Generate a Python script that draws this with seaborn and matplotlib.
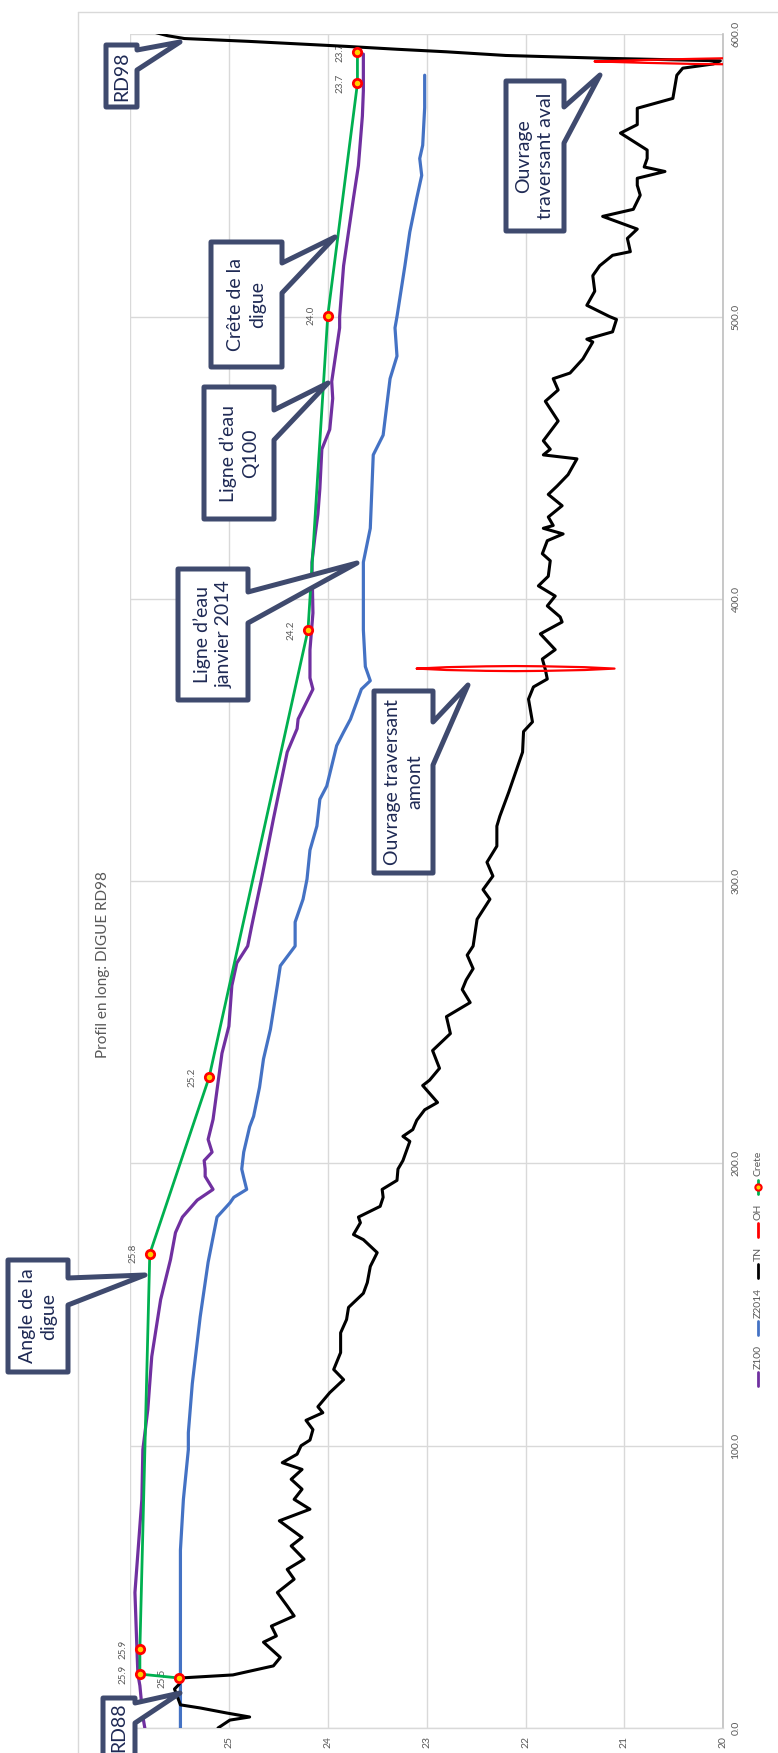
import numpy as np
import pandas as pd
import matplotlib
matplotlib.use("Agg")
import matplotlib.pyplot as plt
from matplotlib.patches import Polygon
from matplotlib.lines import Line2D
import seaborn as sns

sns.set_theme(style="white")
plt.rcParams["font.family"] = ["Lato", "DejaVu Sans"]

# ---------------------------------------------------------------- data
# Longitudinal profile of the RD98 dyke: distance along the dyke (m) and
# elevation (m NGF) for each series.

z100_dist = [0, 4, 15, 19, 28, 48, 81, 98.6, 112.8, 131.6, 151.8, 166, 175.5, 181,
             187, 190.8, 195.4, 198, 201, 204, 208.5, 215.6, 239, 248.6, 263, 271,
             277, 284, 300.7, 322, 345.7, 354, 357.4, 368, 372, 382, 395, 413, 422,
             430, 439, 453, 460, 471, 477, 496, 500, 518, 542, 553.5, 571, 580, 593]
z100_elev = [25.85, 25.87, 25.90, 25.92, 25.93, 25.95, 25.88, 25.87, 25.82, 25.78,
             25.69, 25.59, 25.54, 25.47, 25.32, 25.16, 25.24, 25.24, 25.25, 25.17,
             25.21, 25.16, 25.07, 25.00, 24.97, 24.92, 24.81, 24.77, 24.67, 24.55,
             24.41, 24.31, 24.30, 24.15, 24.18, 24.18, 24.15, 24.16, 24.13, 24.10,
             24.08, 24.06, 23.98, 23.95, 23.96, 23.88, 23.88, 23.84, 23.74, 23.69,
             23.65, 23.64, 23.64]

z2014_dist = [0, 21.6, 63, 81, 98.6, 104.6, 122, 145.7, 165, 181, 186, 188, 190.8,
              195, 198, 204, 213, 216.7, 227, 237, 247.5, 263, 270, 277, 285.5,
              293.6, 300.7, 311, 319.5, 329, 333.7, 348, 352.8, 357.4, 368, 371,
              376, 389, 413, 425, 451, 458, 478, 486, 496, 500, 518, 530, 542, 550,
              556, 560.7, 574, 585.5]
z2014_elev = [25.49, 25.49, 25.49, 25.46, 25.41, 25.41, 25.37, 25.29, 25.21, 25.12,
              24.99, 24.95, 24.82, 24.85, 24.87, 24.85, 24.79, 24.75, 24.69, 24.65,
              24.58, 24.51, 24.48, 24.33, 24.33, 24.25, 24.21, 24.18, 24.11, 24.08,
              24.01, 23.91, 23.84, 23.77, 23.66, 23.57, 23.62, 23.64, 23.64, 23.57,
              23.54, 23.44, 23.37, 23.30, 23.32, 23.30, 23.22, 23.17, 23.10, 23.05,
              23.07, 23.04, 23.02, 23.02]

tn_dist = [0, 2.8, 3.9, 5.3, 7.1, 8.2, 13.8, 15.6, 17.7, 18.8, 22, 25, 30.4, 32.6,
           36.1, 39.7, 43.2, 48, 52.7, 56.2, 59.8, 64.5, 67.5, 73.4, 77.5, 81,
           84.6, 88.1, 91.6, 94, 97, 100, 102, 105.7, 109, 111.7, 113.8, 118.8,
           123.4, 127, 133, 140, 144.7, 149, 154, 157.8, 163.5, 168.4, 173, 174.8,
           179, 181, 184.8, 188, 190.8, 194, 198, 201, 207.8, 209.6, 212, 215.3,
           219, 221.6, 227.6, 229.5, 233.7, 240, 246, 252, 257, 261.6, 265, 269,
           273.8, 277, 286.5, 293.6, 297, 301.8, 306.7, 312.4, 319.5, 323, 331.5,
           338.6, 345.7, 353, 356.4, 364.5, 368.8, 371.6, 375, 378.7, 382, 387.6,
           391.8, 393.6, 397.5, 401, 404.6, 408, 413.5, 416, 420.6, 423, 425, 426,
           429, 433, 437, 440, 444, 449.6, 451, 453, 456, 463, 470, 474, 478, 480,
           485, 491, 492, 494.6, 499, 500, 504, 509, 514.5, 518, 521.7, 523,
           527.7, 531, 535.5, 538, 543, 546.5, 549, 551.4, 553, 556, 559, 565, 568,
           573.8, 577.3, 585.5, 588, 589.5, 590.6, 591.5, 592.5, 593.8, 594.7,
           595.7, 596.8, 597.5, 598.5, 599.5, 600.7, 601.5]
tn_elev = [25.11, 24.99, 24.79, 25.02, 25.29, 25.49, 25.55, 25.50, 25.50, 24.96,
           24.55, 24.48, 24.65, 24.52, 24.57, 24.34, 24.41, 24.51, 24.34, 24.41,
           24.24, 24.37, 24.26, 24.49, 24.18, 24.34, 24.26, 24.37, 24.26, 24.46,
           24.31, 24.27, 24.18, 24.15, 24.22, 24.05, 24.10, 23.98, 23.84, 23.94,
           23.87, 23.87, 23.81, 23.79, 23.64, 23.60, 23.57, 23.50, 23.64, 23.74,
           23.67, 23.69, 23.47, 23.44, 23.45, 23.30, 23.29, 23.24, 23.17, 23.24,
           23.14, 23.10, 23.02, 22.89, 23.04, 22.97, 22.87, 22.94, 22.76, 22.80,
           22.56, 22.64, 22.60, 22.53, 22.59, 22.53, 22.49, 22.36, 22.43, 22.33,
           22.39, 22.29, 22.29, 22.26, 22.17, 22.10, 22.03, 22.02, 21.93, 21.97,
           21.92, 21.78, 21.80, 21.83, 21.70, 21.85, 21.63, 21.65, 21.78, 21.70,
           21.87, 21.77, 21.75, 21.83, 21.78, 21.62, 21.82, 21.72, 21.77, 21.63,
           21.77, 21.68, 21.57, 21.48, 21.82, 21.75, 21.82, 21.67, 21.80, 21.67,
           21.72, 21.55, 21.42, 21.32, 21.38, 21.12, 21.08, 21.15, 21.38, 21.30,
           21.32, 21.25, 21.12, 20.94, 20.97, 20.87, 21.22, 20.91, 20.84, 20.87,
           20.87, 20.59, 20.80, 20.77, 20.77, 21.04, 20.87, 20.87, 20.51, 20.47,
           20.41, 20.10, 20.03, 21.20, 22.20, 22.80, 23.30, 23.80, 24.40, 24.80,
           25.45, 25.62, 25.75, 25.90]

# Crossing structures (OH): closed outlines, upstream and downstream
oh_amont_dist = [375.3, 375.8, 376.1, 376.2, 376.1, 375.8, 375.3, 374.8, 374.5,
                 374.4, 374.5, 374.8, 375.3]
oh_amont_elev = [23.1, 22.8, 22.4, 22.1, 21.8, 21.4, 21.1, 21.4, 21.8, 22.1, 22.4,
                 22.8, 23.1]
oh_aval_dist = [590.4, 590.9, 591.3, 591.5, 591.3, 590.5, 589.6, 589.4, 589.5,
                589.9, 590.4]
oh_aval_elev = [21.3, 20.8, 20.3, 20.0, 19.6, 19.3, 19.6, 20.0, 20.3, 20.8, 21.3]

# Dyke crest survey points (value labels are drawn from the same values)
crete_dist = [17.7, 19.1, 28, 168, 230.5, 389, 500.3, 582.6, 593.6]
crete_elev = [25.5, 25.9, 25.9, 25.8, 25.2, 24.2, 24.0, 23.7, 23.7]

elev_ticks = [20, 21, 22, 23, 24, 25, 26]
dist_ticks = [0, 100, 200, 300, 400, 500, 600]
legend_labels = ["Z100", "Z2014", "TN", "OH", "Crete"]
title_text = "Profil en long: DIGUE RD98"

callouts = [
    ("RD98", (106, 45, 137, 107), (50, 70), (180, 42)),
    ("RD88", (103, 1698, 135, 1790), (1703, 1723), (180, 1693)),
    ("Angle de la\ndigue", (8, 1260, 68, 1372), (1278, 1305), (145, 1275)),
    ("Crête de la\ndigue", (211, 242, 282, 367), (263, 293), (335, 237)),
    ("Ligne d\u2019eau\nQ100", (204, 387, 274, 519), (410, 440), (328, 383)),
    ("Ligne d\u2019eau\njanvier 2014", (178, 569, 248, 700), (592, 623), (357, 563)),
    ("Ouvrage traversant\namont", (374, 691, 433, 873), (722, 765), (468, 685)),
    ("Ouvrage\ntraversant aval", (506, 81, 564, 231), (107, 143), (600, 75)),
]

# ---------------------------------------------------------------- figure
W, H = 778, 1753
fig = plt.figure(figsize=(W / 100, H / 100), dpi=100)
fig.patch.set_facecolor("white")


def fx(px):
    return px / W


def fy(py):
    return 1 - py / H


ax = fig.add_axes([fx(130), fy(1728), fx(723.3) - fx(130), fy(34.3) - fy(1728)])

C_Z100 = "#7030A0"
C_Z2014 = "#4472C4"
C_TN = "#000000"
C_OH = "#FF0000"
C_CRETE = "#00B050"
GRID = "#D9D9D9"
TXT = "#595959"

df_z100 = pd.DataFrame({"elev": z100_elev, "dist": z100_dist})
df_z2014 = pd.DataFrame({"elev": z2014_elev, "dist": z2014_dist})
df_tn = pd.DataFrame({"elev": tn_elev, "dist": tn_dist})
df_oh1 = pd.DataFrame({"elev": oh_amont_elev, "dist": oh_amont_dist})
df_oh2 = pd.DataFrame({"elev": oh_aval_elev, "dist": oh_aval_dist})
df_cr = pd.DataFrame({"elev": crete_elev, "dist": crete_dist})

kw = dict(x="elev", y="dist", orient="y", sort=False, estimator=None, ax=ax)
sns.lineplot(data=df_z100, color=C_Z100, lw=2.3, zorder=3, **kw)
sns.lineplot(data=df_z2014, color=C_Z2014, lw=2.3, zorder=3, **kw)
sns.lineplot(data=df_tn, color=C_TN, lw=2.2, zorder=4, **kw)
sns.lineplot(data=df_oh1, color=C_OH, lw=1.6, zorder=5, **kw)
sns.lineplot(data=df_oh2, color=C_OH, lw=1.6, zorder=5, **kw)
sns.lineplot(data=df_cr, color=C_CRETE, lw=2.0, zorder=6, marker="o",
             markersize=6, markerfacecolor="#FFD000", markeredgecolor=C_OH,
             markeredgewidth=2.0, **kw)

for d, e in zip(crete_dist, crete_elev):
    ax.annotate(f"{e:.1f}", (e, d), xytext=(-17, 0), textcoords="offset pixels",
                rotation=90, ha="center", va="center", fontsize=7, color=TXT,
                zorder=3)

ax.set_xlim(26, 20)
ax.set_ylim(0, 600)
ax.set_xticks(elev_ticks)
ax.set_xticklabels([str(t) for t in elev_ticks])
ax.set_yticks(dist_ticks)
ax.set_yticklabels([f"{t:.1f}" for t in dist_ticks])
ax.yaxis.tick_right()
ax.tick_params(axis="x", labelrotation=90, length=0, pad=6, labelsize=7.5,
               labelcolor=TXT)
ax.tick_params(axis="y", labelrotation=90, length=0, pad=6, labelsize=7.5,
               labelcolor=TXT)
for lab in ax.get_yticklabels():
    lab.set_va("center")
ax.set_xlabel("")
ax.set_ylabel("")
ax.grid(True, color=GRID, lw=1.0)
for side in ["top", "left"]:
    ax.spines[side].set_visible(False)
ax.spines["right"].set_color("#BFBFBF")
ax.spines["bottom"].set_color("#D9D9D9")
ax.spines["right"].set_linewidth(1.2)
ax.spines["bottom"].set_linewidth(1.0)

# chart-area border
fig.add_artist(Line2D([fx(78), fx(78)], [fy(12), fy(H + 5)], color=GRID, lw=1.0))
fig.add_artist(Line2D([fx(78), fx(W + 5)], [fy(12), fy(12)], color=GRID, lw=1.0))

# title
fig.text(fx(103), fy(965), title_text, rotation=90, ha="center", va="center",
         fontsize=11, color=TXT)

# legend, drawn vertically (entries read bottom to top)
renderer = fig.canvas.get_renderer()
leg_colors = [C_Z100, C_Z2014, C_TN, C_OH, C_CRETE]
y_cur = 1386
lx = 758
for lab, col in zip(legend_labels, leg_colors):
    fig.add_artist(Line2D([fx(lx), fx(lx)], [fy(y_cur), fy(y_cur - 14)], color=col,
                          lw=2.0))
    if lab == "Crete":
        fig.add_artist(Line2D([fx(lx)], [fy(y_cur - 7)], marker="o", ms=4.5,
                              mfc="#FFD000", mec=C_OH, mew=1.5))
    t = fig.text(fx(lx), fy(y_cur - 17), lab, rotation=90, ha="center",
                 va="bottom", fontsize=7.5, color=TXT)
    h = t.get_window_extent(renderer).height
    y_cur -= 17 + h + 10

# callouts: box with a wedge on its right edge pointing at a feature
EDGE = "#3F4A6E"
TEXT_C = "#1F2A55"
for text, (x0, y0, x1, y1), (ya, yb), (tx, ty) in callouts:
    pts = [(x0, y0), (x1, y0), (x1, ya), (tx, ty), (x1, yb), (x1, y1), (x0, y1)]
    poly = Polygon([(fx(px), fy(py)) for px, py in pts], closed=True,
                   transform=fig.transFigure, facecolor="white", edgecolor=EDGE,
                   lw=3.6, joinstyle="round", zorder=10)
    fig.add_artist(poly)
    cy = (y0 + y1) / 2 if text != "RD88" else 1727
    fig.text(fx((x0 + x1) / 2), fy(cy), text, rotation=90, ha="center",
             va="center", multialignment="center", fontsize=14, color=TEXT_C,
             linespacing=1.35, zorder=11)

fig.savefig("out.png", dpi=100, facecolor="white")
